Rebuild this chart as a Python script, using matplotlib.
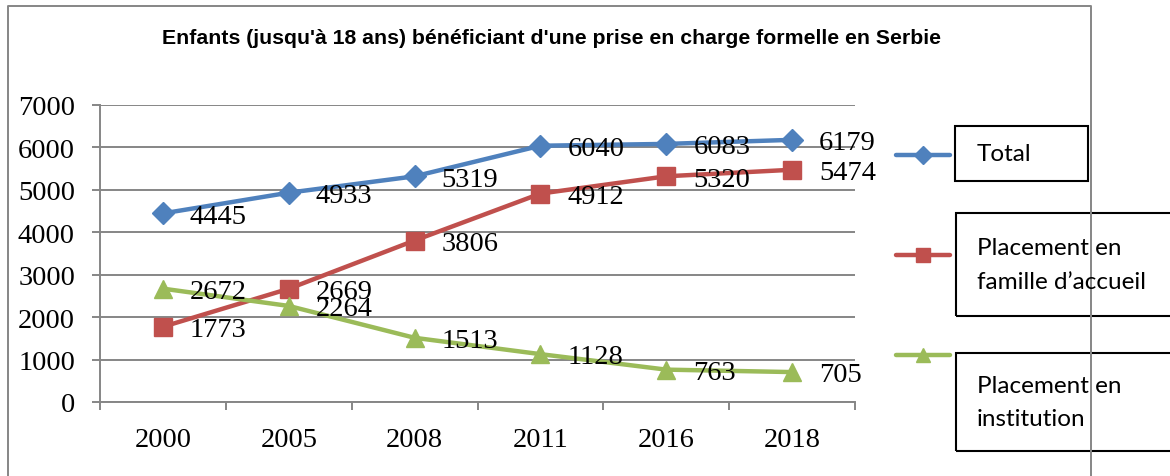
import matplotlib
matplotlib.use("Agg")
import matplotlib.pyplot as plt
from matplotlib.lines import Line2D
from matplotlib.patches import Rectangle

W, H = 1170, 477

years = ["2000", "2005", "2008", "2011", "2016", "2018"]
total = [4445, 4933, 5319, 6040, 6083, 6179]
famille = [1773, 2669, 3806, 4912, 5320, 5474]
institution = [2672, 2264, 1513, 1128, 763, 705]

names = ["Total", "Placement en\nfamille d\u2019accueil", "Placement en\ninstitution"]
colors = ["#4F81BD", "#C0504D", "#9BBB59"]
markers = ["D", "s", "^"]
msizes = [11, 13, 13]
leg_msizes = [9, 10, 10]
title = "Enfants (jusqu'\u00e0 18 ans) b\u00e9n\u00e9ficiant d'une prise en charge formelle en Serbie"

serif = "Liberation Serif"
grid_c = "#868686"


def fx(x):
    return x / W


def fy(y):
    return 1 - y / H


fig = plt.figure(figsize=(W / 100, H / 100), dpi=100)
ax = fig.add_axes([fx(100), fy(403), fx(855) - fx(100), fy(106) - fy(403)])

xs = list(range(len(years)))
for vals, c, m, ms in zip([total, famille, institution], colors, markers, msizes):
    ax.plot(xs, vals, color=c, lw=3.2, marker=m, ms=ms, mec=c, mfc=c, zorder=3)
    for x, v in zip(xs, vals):
        ax.annotate(str(v), (x, v), xytext=(19.5, -2), textcoords="offset points",
                    ha="left", va="center", fontsize=20.5, family=serif, zorder=4)

ax.set_xlim(-0.5, len(years) - 0.5)
ax.set_ylim(0, 7000)
ax.set_yticks(range(0, 7001, 1000))
ax.yaxis.grid(True, color=grid_c, lw=1.4)
ax.set_axisbelow(True)
for s in ["top", "right"]:
    ax.spines[s].set_visible(False)
for s in ["left", "bottom"]:
    ax.spines[s].set_color(grid_c)
    ax.spines[s].set_linewidth(1.4)

ax.set_xticks([i - 0.5 for i in range(len(years) + 1)])
ax.set_xticklabels([])
ax.set_xticks(xs, minor=True)
ax.set_xticklabels(years, minor=True)
ax.tick_params(axis="x", which="major", length=6, color=grid_c, width=1.4)
ax.tick_params(axis="x", which="minor", length=0, pad=18)
ax.tick_params(axis="y", length=6, color=grid_c, width=1.4, pad=12)
for lab in ax.get_xticklabels(minor=True) + ax.get_yticklabels():
    lab.set_fontfamily(serif)
    lab.set_fontsize(20.5)

fig.text(fx(551), fy(38), title, ha="center", va="center", fontsize=15.3,
         fontweight="bold", family="Liberation Sans")

# outer chart border (bottom is cut off)
fig.add_artist(Line2D([fx(8), fx(8), fx(1091), fx(1091)], [0, fy(7), fy(7), 0],
                      transform=fig.transFigure, color=grid_c, lw=1.4))

# legend, each entry in its own box
leg_y = [156, 256, 356]
boxes = [(955, 127, 133, 55), (956, 214, 220, 103), (956, 354, 220, 98)]
for (c, m, ms, name, ly, (bx, by, bw, bh)) in zip(colors, markers, leg_msizes, names, leg_y, boxes):
    fig.add_artist(Line2D([fx(896), fx(950)], [fy(ly), fy(ly)], transform=fig.transFigure,
                          color=c, lw=3.2, solid_capstyle="round"))
    fig.add_artist(Line2D([fx(923)], [fy(ly)], transform=fig.transFigure,
                          color=c, marker=m, ms=ms, mec=c, mfc=c, ls="none"))
    fig.add_artist(Rectangle((fx(bx), fy(by + bh)), fx(bw), bh / H, transform=fig.transFigure,
                             fill=False, ec="black", lw=1.5))
    fig.text(fx(977), fy(by + bh / 2), name, ha="left", va="center", fontsize=17.5,
             family="Lato", linespacing=1.75)

fig.savefig("out.png", dpi=100)
